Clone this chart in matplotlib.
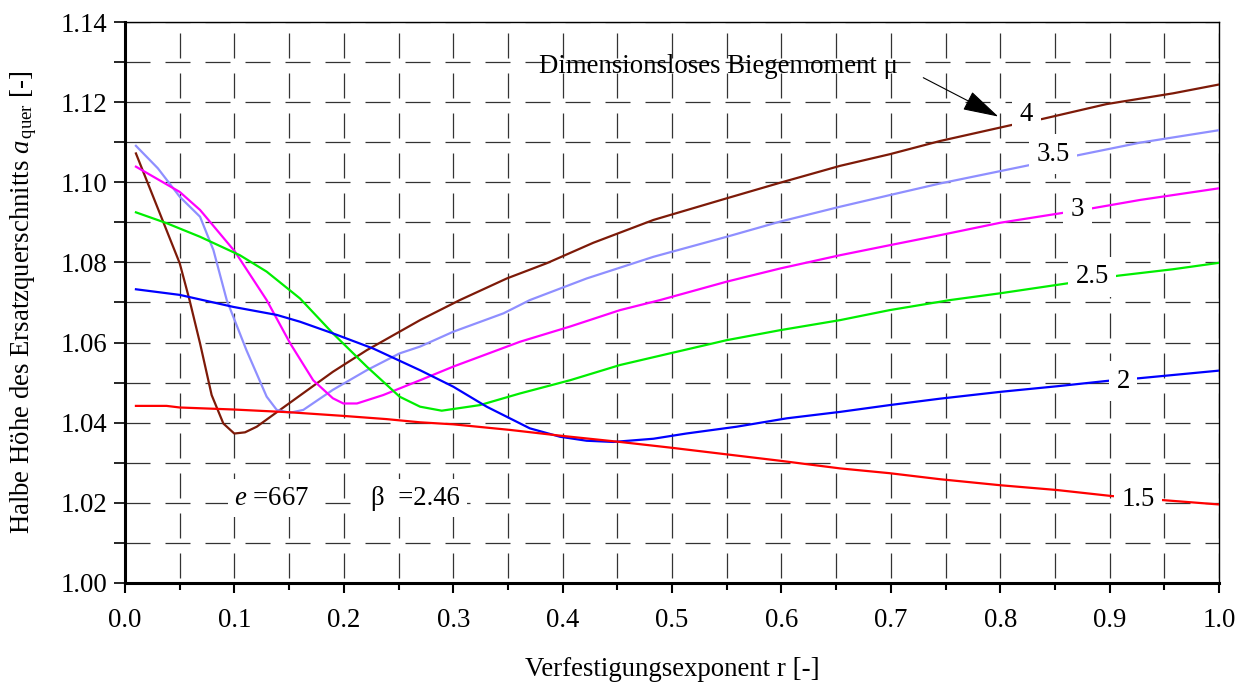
import matplotlib
matplotlib.use("Agg")
import matplotlib.pyplot as plt
from matplotlib.ticker import MultipleLocator, FormatStrFormatter

plt.rcParams['font.family'] = ['Liberation Serif', 'DejaVu Serif']
plt.rcParams['mathtext.fontset'] = 'custom'
plt.rcParams['mathtext.rm'] = 'Liberation Serif'
plt.rcParams['mathtext.it'] = 'Liberation Serif:italic'
plt.rcParams['lines.scale_dashes'] = False

# Half height of the equivalent cross-section vs. hardening exponent r,
# one curve per dimensionless bending moment mu
r_mu4 = [0.01, 0.03, 0.05, 0.059, 0.0686, 0.0792, 0.0899, 0.0999, 0.1097, 0.1204, 0.1417,
         0.190, 0.221, 0.2697, 0.306, 0.349, 0.3855, 0.428, 0.483, 0.550, 0.599, 0.6536,
         0.699, 0.745, 0.8105, 0.8385, 0.897, 0.958, 1.0]
a_mu4 = [1.1072, 1.0935, 1.0798, 1.0706, 1.0598, 1.0469, 1.0398, 1.0373, 1.0376, 1.0390, 1.0432,
         1.0527, 1.0581, 1.0656, 1.0706, 1.0760, 1.0798, 1.0849, 1.0906, 1.0960, 1.0999, 1.1041,
         1.1070, 1.1103, 1.1143, 1.1158, 1.1195, 1.1222, 1.1244]

r_mu35 = [0.01, 0.03, 0.05, 0.0686, 0.0808, 0.093, 0.111, 0.1295, 0.1387, 0.151, 0.163, 0.190,
          0.221, 0.251, 0.2697, 0.300, 0.346, 0.370, 0.422, 0.483, 0.550, 0.599, 0.6536, 0.699,
          0.745, 0.827, 0.872, 0.928, 1.0]
a_mu35 = [1.1091, 1.1035, 1.0964, 1.0914, 1.0831, 1.0706, 1.0581, 1.0465, 1.0432, 1.0425, 1.0432,
          1.0482, 1.0531, 1.0573, 1.0590, 1.0627, 1.0673, 1.0706, 1.0760, 1.0814, 1.0864, 1.0902,
          1.0939, 1.0968, 1.0997, 1.1043, 1.1068, 1.1099, 1.1130]

r_mu3 = [0.01, 0.05, 0.0686, 0.1005, 0.1295, 0.151, 0.172, 0.190, 0.1996, 0.212, 0.236, 0.2697,
         0.300, 0.361, 0.4068, 0.4525, 0.489, 0.550, 0.599, 0.6536, 0.699, 0.745, 0.80, 0.858,
         0.884, 0.928, 1.0]
a_mu3 = [1.1039, 1.0976, 1.0931, 1.0827, 1.0706, 1.0598, 1.0506, 1.0461, 1.0448, 1.0448, 1.0469,
         1.0506, 1.0540, 1.0602, 1.0640, 1.0681, 1.0706, 1.0752, 1.0785, 1.0818, 1.0843, 1.0868,
         1.0899, 1.0924, 1.0935, 1.0956, 1.0985]

r_mu25 = [0.01, 0.038, 0.0686, 0.105, 0.1295, 0.16, 0.190, 0.221, 0.251, 0.2697, 0.2895, 0.3245,
          0.361, 0.4068, 0.4525, 0.498, 0.550, 0.599, 0.6536, 0.699, 0.754, 0.80, 0.862, 0.908,
          0.958, 1.0]
a_mu25 = [1.0925, 1.0898, 1.0864, 1.0818, 1.0777, 1.0710, 1.0623, 1.0540, 1.0465, 1.0440, 1.0430,
          1.0444, 1.0473, 1.0506, 1.0544, 1.0573, 1.0606, 1.0631, 1.0656, 1.0681, 1.0706, 1.0723,
          1.0748, 1.0767, 1.0783, 1.0799]

r_mu2 = [0.01, 0.05, 0.099, 0.1387, 0.16, 0.19, 0.227, 0.2697, 0.300, 0.3306, 0.370, 0.3976,
         0.422, 0.4464, 0.483, 0.513, 0.559, 0.605, 0.6536, 0.699, 0.745, 0.80, 0.852, 0.90,
         0.927, 1.0]
a_mu2 = [1.0733, 1.0719, 1.0689, 1.0669, 1.0652, 1.0623, 1.0585, 1.0531, 1.0490, 1.0440, 1.0386,
         1.0365, 1.0355, 1.0352, 1.0360, 1.0373, 1.0390, 1.0411, 1.0427, 1.0444, 1.0460, 1.0477,
         1.0491, 1.0505, 1.0511, 1.0530]

r_mu15 = [0.01, 0.038, 0.05, 0.099, 0.151, 0.1996, 0.239, 0.2697, 0.300, 0.352, 0.4, 0.4525,
          0.498, 0.55, 0.599, 0.6536, 0.699, 0.745, 0.80, 0.852, 0.902, 0.948, 1.0]
a_mu15 = [1.0442, 1.0442, 1.0438, 1.0433, 1.0426, 1.0417, 1.0409, 1.0401, 1.0396, 1.0382, 1.0367,
          1.0352, 1.0338, 1.0321, 1.0305, 1.0286, 1.0274, 1.0259, 1.0244, 1.0232, 1.0217, 1.0207,
          1.0196]

mu_labels = ["4", "3.5", "3", "2.5", "2", "1.5"]
label_r = [0.824, 0.8486, 0.8705, 0.884, 0.9125, 0.926]
label_a = [1.1168, 1.1070, 1.0931, 1.0764, 1.0504, 1.0209]

curves = [(r_mu4, a_mu4, '#7d1a08'),
          (r_mu35, a_mu35, '#8f8fff'),
          (r_mu3, a_mu3, '#ff00ff'),
          (r_mu25, a_mu25, '#00ee00'),
          (r_mu2, a_mu2, '#0000ff'),
          (r_mu15, a_mu15, '#ff0000')]

FS = 19.3

fig = plt.figure(figsize=(12.47, 6.86), dpi=100)
ax = fig.add_axes([125 / 1247, 1 - 583 / 686, 1094 / 1247, 561 / 686])

for (r, a, c) in curves:
    ax.plot(r, a, color=c, lw=1.6, zorder=3, solid_joinstyle='round')

box = dict(boxstyle='square,pad=0.28', facecolor='white', edgecolor='none')
for txt, x, y in zip(mu_labels, label_r, label_a):
    ax.text(x, y, txt, fontsize=FS, ha='center', va='center', bbox=box, zorder=4)

ax.text(0.3782, 1.1289, "Dimensionsloses Biegemoment \u03bc", fontsize=FS,
        ha='left', va='center', zorder=4)
ax.annotate('', xy=(0.7983, 1.1164), xytext=(0.7297, 1.1261),
            arrowprops=dict(arrowstyle='-|>,head_length=0.6,head_width=0.17',
                            mutation_scale=38, lw=0.8, color='black',
                            shrinkA=0, shrinkB=0), zorder=4)

ax.text(0.100, 1.0212, r"$\mathit{e}$ =667", fontsize=FS, ha='left', va='center',
        bbox=dict(boxstyle='square,pad=0.25', facecolor='white', edgecolor='none'), zorder=4)
ax.text(0.225, 1.0212, "\u03b2  =2.46", fontsize=FS, ha='left', va='center',
        bbox=dict(boxstyle='square,pad=0.25', facecolor='white', edgecolor='none'), zorder=4)

ax.set_xlim(0, 1.0)
ax.set_ylim(1.00, 1.14)
ax.xaxis.set_major_locator(MultipleLocator(0.1))
ax.xaxis.set_minor_locator(MultipleLocator(0.05))
ax.yaxis.set_major_locator(MultipleLocator(0.02))
ax.yaxis.set_minor_locator(MultipleLocator(0.01))
ax.xaxis.set_major_formatter(FormatStrFormatter('%.1f'))
ax.yaxis.set_major_formatter(FormatStrFormatter('%.2f'))

ax.yaxis.grid(True, which='both', color='#333333', lw=0.9, linestyle=(0, (18, 10.8)), zorder=1)
ax.xaxis.grid(True, which='both', color='#333333', lw=0.9, linestyle=(25.2, (18, 10.8)), zorder=1)
ax.set_axisbelow(True)

ax.tick_params(axis='both', which='both', direction='out', labelsize=FS, color='black')
ax.tick_params(axis='x', which='major', length=7, width=1.5, pad=11)
ax.tick_params(axis='x', which='minor', length=5, width=1.5)
ax.tick_params(axis='y', which='both', length=8, width=1.2, pad=5)

ax.spines['left'].set_linewidth(2.2)
ax.spines['bottom'].set_linewidth(2.2)
ax.spines['right'].set_linewidth(1.0)
ax.spines['top'].set_linewidth(1.0)

fig.text(24 / 1247, 1 - 302.5 / 686,
         r"Halbe Höhe des Ersatzquerschnitts $\mathit{a}_{\,\mathrm{quer}}$ [-]",
         fontsize=FS, rotation=90, ha='center', va='center')
fig.text((125 + 547) / 1247, 1 - 670 / 686, "Verfestigungsexponent r [-]",
         fontsize=FS, ha='center', va='center')

fig.savefig("out.png", dpi=100)
